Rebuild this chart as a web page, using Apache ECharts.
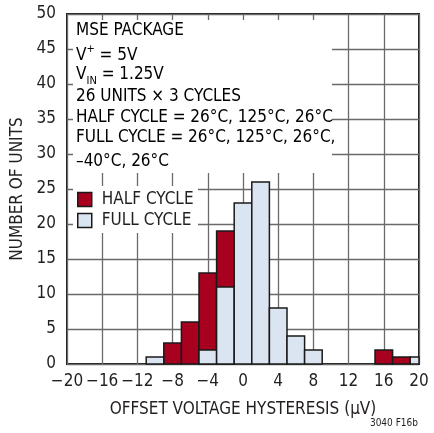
<!DOCTYPE html>
<html><head><meta charset="utf-8">
<script src="https://cdn.jsdelivr.net/npm/echarts@6/dist/echarts.min.js"></script>
<style>html,body{margin:0;padding:0;background:#fff}#c{width:434px;height:433px}</style>
</head><body><div id="c"></div>
<script>
const binCenters = [-10, -8, -6, -4, -2, 0, 2, 4, 6, 8, 10, 12, 14, 16, 18, 20];
const halfCycle  = [  0,  3,  6, 13, 19, 0, 0, 0, 0, 0,  0,  0,  0,  2,  1,  0];
const fullCycle  = [  1,  0,  0,  2, 11, 23, 26, 8, 4, 2, 0,  0,  0,  0,  0,  1];
const xTicks = [-20, -16, -12, -8, -4, 0, 4, 8, 12, 16, 20];
const yTicks = [0, 5, 10, 15, 20, 25, 30, 35, 40, 45, 50];

const FONT = '"Liberation Sans Narrow", "DejaVu Sans Condensed", "Liberation Sans", sans-serif';
const TXT = '#231f20';
const RED = '#a8001f';
const BLUE = '#dbe5f1';

function pairs(vals){ return binCenters.map((x,i)=>[x, vals[i]]).filter(p=>p[1]>0); }

function renderBin(params, api){
  const x = api.value(0), y = api.value(1);
  const p0 = api.coord([x-1, y]);
  const p1 = api.coord([x+1, 0]);
  const cs = params.coordSys;
  const r = echarts.graphic.clipRectByRect(
    {x:p0[0], y:p0[1], width:p1[0]-p0[0], height:p1[1]-p0[1]},
    {x:cs.x, y:cs.y, width:cs.width, height:cs.height});
  if(!r) return;
  return {type:'rect', shape:r, style:api.style({stroke:'#1a1a1a', lineWidth:1.5})};
}

const chart = echarts.init(document.getElementById('c'));
const lineTexts = [
  {text:'MSE PACKAGE', y:34},
  {text:'{n|V}{sup|+}{n| = 5V}', y:56},
  {text:'{n|V}{sub|IN}{n| = 1.25V}', y:78},
  {text:'26 UNITS × 3 CYCLES', y:100},
  {text:'HALF CYCLE = 26°C, 125°C, 26°C', y:121},
  {text:'FULL CYCLE = 26°C, 125°C, 26°C,', y:141},
  {text:'–40°C, 26°C', y:165}
];
const rich = {
  n:{fontSize:17, fontFamily:FONT, color:TXT, lineHeight:24},
  sup:{fontSize:11, fontFamily:FONT, color:TXT, lineHeight:11, verticalAlign:'top'},
  sub:{fontSize:11, fontFamily:FONT, color:TXT, lineHeight:11, verticalAlign:'bottom'}
};

chart.setOption({
  animation:false,
  grid:{left:67, right:15, top:14, bottom:69, show:true, borderColor:'#1a1a1a', borderWidth:2, backgroundColor:'transparent'},
  xAxis:{type:'value', min:-20, max:20, interval:4,
    axisLine:{show:false}, axisTick:{show:false},
    splitLine:{show:true, lineStyle:{color:'#6a6a6a', width:1.3}},
    axisLabel:{fontSize:17, fontFamily:FONT, color:TXT, margin:9, showMinLabel:true, showMaxLabel:true,
      formatter:v=>String(v).replace('-', '−')},
    name:'OFFSET VOLTAGE HYSTERESIS (μV)', nameLocation:'middle', nameGap:37,
    nameTextStyle:{fontSize:17, fontFamily:FONT, color:TXT}
  },
  yAxis:{type:'value', min:0, max:50, interval:5,
    axisLine:{show:false}, axisTick:{show:false},
    splitLine:{show:true, lineStyle:{color:'#6a6a6a', width:1.3}},
    axisLabel:{fontSize:17, fontFamily:FONT, color:TXT, margin:11},
    name:'NUMBER OF UNITS', nameLocation:'middle', nameGap:34,
    nameTextStyle:{fontSize:17, fontFamily:FONT, color:TXT}
  },
  legend:{orient:'vertical', left:77, top:191, itemWidth:14, itemHeight:14, itemGap:4,
    icon:'rect', padding:0,
    textStyle:{fontSize:17, fontFamily:FONT, color:TXT, padding:[0,0,0,5]},
    data:[
      {name:'HALF CYCLE', itemStyle:{color:RED, borderColor:'#1a1a1a', borderWidth:1.5}},
      {name:'FULL CYCLE', itemStyle:{color:BLUE, borderColor:'#1a1a1a', borderWidth:1.5}}
    ]},
  graphic:[
    {type:'rect', z:1, shape:{x:73, y:20, width:259, height:153}, style:{fill:'#fff'}},
    {type:'rect', z:1, shape:{x:73, y:186, width:125, height:47}, style:{fill:'#fff'}},
    ...lineTexts.map(t=>({type:'text', z:5, left:76, top:t.y-12,
      style:{text: t.text.indexOf('{')===0 ? t.text : '{n|'+t.text+'}', rich:rich}})),
    {type:'text', z:5, right:16, top:418, style:{text:'3040 F16b', fontSize:10, fontFamily:FONT, fill:TXT}}
  ],
  series:[
    {name:'HALF CYCLE', type:'custom', z:3, renderItem:renderBin, itemStyle:{color:RED}, data:pairs(halfCycle)},
    {name:'FULL CYCLE', type:'custom', z:4, renderItem:renderBin, itemStyle:{color:BLUE}, data:pairs(fullCycle)}
  ]
});
</script></body></html>
